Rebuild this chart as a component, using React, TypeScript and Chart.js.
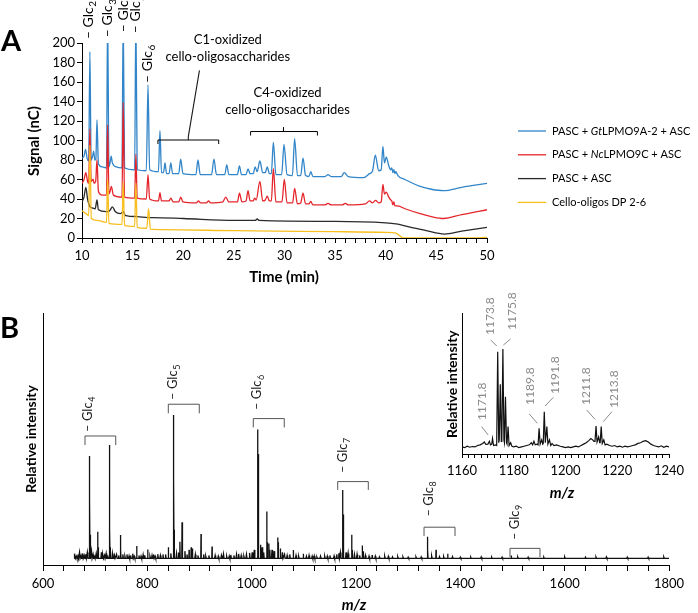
import React, { useEffect, useRef } from "react";
import { Chart, registerables } from "chart.js";

Chart.register(...registerables);

const FONT = "Lato, 'Open Sans', 'DejaVu Sans', sans-serif";
const BLUE = "#3185c8";
const RED = "#e4262c";
const DARK = "#2a2a2a";
const GOLD = "#f7be1e";
const GREY_LABEL = "#8a8a8a";

// ---------------- Panel A: chromatograms (time min, signal nC) ----------------
const timeTickLabels = [10, 15, 20, 25, 30, 35, 40, 45, 50];

const gtTrace: [number, number][] = [
  [10.0, 82], [10.2, 84], [10.35, 91], [10.5, 82], [10.66, 79], [10.78, 191], [10.9, 80], [11.05, 84], [11.15, 89],
  [11.27, 80], [11.37, 81], [11.48, 121], [11.62, 76], [12.0, 73], [12.42, 72], [12.53, 230], [12.66, 73], [12.8, 79],
  [12.88, 84], [13.0, 77], [13.4, 73], [13.95, 72], [14.07, 230], [14.2, 72], [15.2, 70], [15.32, 230], [15.45, 70],
  [16.35, 69], [16.52, 157], [16.68, 70], [17.55, 68], [17.7, 110], [17.85, 67], [18.05, 67], [18.2, 77], [18.35, 66],
  [18.6, 66], [18.77, 77], [18.95, 66], [19.55, 66], [19.75, 81], [19.97, 66], [21.25, 65], [21.45, 80], [21.68, 65],
  [22.8, 65], [23.03, 81], [23.28, 65], [24.1, 65], [24.3, 75], [24.5, 65], [25.35, 65], [25.55, 74], [25.75, 65],
  [26.2, 65], [26.4, 71], [26.6, 66], [26.92, 66], [27.1, 73], [27.3, 68], [27.57, 79], [27.85, 67], [28.1, 67],
  [28.3, 73], [28.5, 66], [28.7, 66], [28.9, 98], [29.15, 65], [29.72, 65], [29.95, 96], [30.25, 65], [30.78, 64],
  [31.0, 102], [31.28, 64], [31.6, 64], [31.83, 82], [32.08, 64], [32.4, 63], [32.6, 68], [32.8, 63], [34.0, 63],
  [34.3, 65], [34.6, 63], [35.6, 63], [35.9, 67], [36.3, 63], [37.8, 62], [38.4, 66], [38.7, 69], [38.97, 85],
  [39.3, 69], [39.55, 70], [39.72, 94], [39.87, 77], [40.05, 83], [40.3, 74], [40.5, 70], [40.6, 72], [40.7, 67],
  [40.8, 70], [40.9, 66], [41.0, 68], [41.2, 64], [41.9, 60], [43.4, 53], [44.5, 50], [45.7, 48.5], [47.5, 52], [50, 56],
];

const ncTrace: [number, number][] = [
  [10.0, 56], [10.2, 60], [10.38, 67], [10.55, 58], [10.66, 56], [10.78, 112], [10.9, 58], [11.1, 60], [11.2, 56],
  [11.35, 58], [11.48, 80], [11.62, 48], [12.0, 44], [12.42, 44], [12.53, 116], [12.66, 45], [12.78, 48], [12.9, 53],
  [13.1, 44], [13.95, 42], [14.07, 139], [14.2, 42], [15.2, 41], [15.32, 86], [15.45, 41], [16.35, 40], [16.52, 65],
  [16.68, 40], [17.55, 38], [17.7, 46.5], [17.85, 38], [18.6, 38], [18.77, 41], [19.0, 37], [19.55, 37], [19.75, 42],
  [19.97, 37], [21.3, 36], [21.5, 38], [21.7, 36], [22.3, 36], [22.5, 38], [22.7, 36], [23.9, 37], [24.2, 42],
  [24.5, 37], [25.35, 37], [25.55, 46], [25.8, 37], [26.2, 38], [26.4, 48.5], [26.6, 38], [26.9, 38], [27.05, 41],
  [27.2, 39], [27.57, 58], [27.85, 38], [28.1, 39], [28.3, 43], [28.5, 38], [28.7, 38], [28.9, 71], [29.15, 37],
  [29.75, 37], [29.98, 60], [30.25, 36], [30.8, 36], [31.0, 51], [31.28, 35], [31.6, 36], [31.83, 46], [32.08, 35],
  [32.4, 35], [32.6, 37.5], [32.8, 34], [34.0, 34], [34.3, 35.5], [34.6, 34], [35.7, 34], [36.0, 35.5], [36.3, 34],
  [38.0, 35], [38.4, 38], [38.7, 36], [39.0, 38.5], [39.3, 36], [39.55, 37], [39.72, 55], [39.87, 45], [40.05, 47],
  [40.3, 42], [40.5, 39], [40.6, 38], [40.7, 34], [40.8, 37], [40.9, 33], [41.2, 33], [41.9, 30], [43.4, 25],
  [44.5, 22], [45.7, 20], [47.5, 24], [50, 29],
];

const controlTrace: [number, number][] = [
  [10.0, 37], [10.2, 42], [10.38, 52], [10.55, 40], [10.8, 32], [11.0, 31], [11.3, 30], [11.48, 39], [11.62, 29],
  [12.4, 27], [12.6, 27], [12.8, 29], [13.0, 32], [13.3, 27], [13.8, 25], [14.07, 27], [14.3, 23], [15.5, 22],
  [16.5, 21], [17.0, 21], [20, 20], [25, 18], [27.1, 18], [27.3, 19.5], [27.5, 18], [35, 17], [40, 15.5], [41, 14.5],
  [42.5, 11], [44, 7.5], [45.8, 4], [47.5, 7], [50, 11],
];

const standardTrace: [number, number][] = [
  [10.0, 28], [10.4, 25], [10.66, 23], [10.78, 95], [10.92, 20], [11.5, 18], [12.42, 16], [12.53, 60], [12.66, 15],
  [13.95, 14], [14.07, 57], [14.2, 13], [15.2, 12], [15.32, 56], [15.45, 11], [16.4, 10], [16.57, 30], [16.75, 9],
  [18, 8.5], [25, 7.5], [35, 6.5], [40, 5.8], [41, 5], [41.75, 0], [48.5, 0], [50, 0.5],
];

const seriesNames = ["PASC + GtLPMO9A-2 + ASC", "PASC + NcLPMO9C + ASC", "PASC + ASC", "Cello-oligos DP 2-6"];
const seriesItalic = ["Gt", "Nc", "", ""];
const seriesColors = [BLUE, RED, DARK, GOLD];

// Glc peak labels (retention time, label foot in nC)
const glcLabelsA = [
  { n: 2, t: 10.62, s: 204 },
  { n: 3, t: 12.56, s: 206 },
  { n: 4, t: 14.07, s: 211 },
  { n: 5, t: 15.32, s: 210 },
  { n: 6, t: 16.47, s: 159 },
];

// ---------------- Panel B: MALDI spectrum (m/z, relative intensity) ----------------
const mzTickLabels = [600, 800, 1000, 1200, 1400, 1600, 1800];
const spectrumBase = 2.6;
const majorPeaks: [number, number][] = [
  [688.7, 43.3], [689.7, 26], [690.7, 12], [704.8, 13.2], [706, 7], [727.1, 47.6], [728.1, 14.7], [729.1, 7],
  [748.2, 11.9], [749.2, 6], [779.6, 7.5], [800.7, 6.2], [840.3, 7], [849.8, 59.5], [850.8, 34], [851.8, 14],
  [862.6, 9.2], [866.5, 17], [867.5, 8], [880, 6], [884, 7], [886.5, 6.5], [902.9, 12.3], [924, 7.3],
  [1011.3, 53.8], [1012.3, 44], [1013.3, 20], [1017, 8], [1028.8, 21.2], [1029.8, 9], [1033, 8.5], [1035, 6],
  [1049.8, 10.9], [1050.8, 9], [1055, 6.5], [1079.8, 6], [1099, 4.5], [1174.2, 29.8], [1175.2, 20], [1176.2, 12],
  [1191.6, 12], [1192.6, 6], [1212, 7.7], [1214, 5.5], [1231, 4], [1336.7, 11.2], [1337.7, 6], [1353.4, 6],
  [1375.8, 4.5], [1497.7, 3.8],
];
const baselineRipple: [number, number][] = [
  [661, 4.5], [664, 3.5], [667, 4.2], [670, 5], [673, 3.8], [676, 4.6], [679, 3.8], [682, 4.3], [685, 5], [693, 5.5],
  [696, 4.2], [699, 3.8], [702, 4.6], [712, 5], [715, 4.2], [718, 3.8], [721, 4.6], [724, 3.8], [733, 4.6], [737, 3.8],
  [741, 4.2], [745, 3.8], [753, 4.2], [757, 3.5], [761, 4.2], [765, 3.6], [768, 3.8], [772, 4.5], [775, 3.5],
  [784, 3.8], [788, 3.5], [792, 4], [795, 3.8], [805, 3.5], [809, 3.8], [812, 4.2], [815, 3.5], [820, 4.3],
  [825, 3.8], [830, 4.2], [835, 4.2], [845, 4.6], [856, 4.6], [860, 5], [872, 5.5], [876, 4.2], [892, 4.2],
  [897, 3.8], [908, 4.2], [912, 3.5], [918, 3.8], [930, 3.8], [936, 3.5], [942, 3.8], [946, 4.3], [952, 3.5],
  [957, 3.5], [960, 4], [966, 3.8], [971, 4.2], [975, 4.4], [980, 3.8], [985, 3.5], [990, 4.2], [996, 4.8],
  [1001, 5], [1005, 6], [1020, 7], [1023, 5], [1039, 6], [1043, 5.5], [1059, 5], [1063, 4.2], [1068, 3.8],
  [1073, 4.2], [1085, 3.8], [1090, 3.5], [1105, 3.5], [1110, 3.8], [1116, 3.5], [1120, 3.6], [1125, 3.2],
  [1132, 3.5], [1140, 3.5], [1145, 3.5], [1150, 3.8], [1158, 3.6], [1163, 4.2], [1167, 4.6], [1170, 5], [1181, 5],
  [1185, 4.6], [1197, 4.2], [1202, 4.2], [1207, 3.8], [1218, 3.8], [1225, 3.5], [1237, 3.5], [1245, 3.2],
  [1255, 3.5], [1262, 3.4], [1270, 3.2], [1280, 3.3], [1290, 3.2], [1300, 3.1], [1315, 3.2], [1325, 3.2],
  [1345, 3.6], [1360, 3.3], [1368, 3.3], [1385, 3.3], [1400, 3.1], [1420, 3.1], [1440, 3.2], [1460, 3.1],
  [1480, 3.1], [1510, 3.2], [1530, 3.1], [1560, 3.1], [1600, 3.2], [1640, 3.1], [1660, 3.2], [1680, 3.2],
  [1720, 3.1], [1760, 3.1], [1790, 3.2],
];

// brackets: DP, m/z range, bracket top / end (rel. int.), label x and foot
const glcBracketsB = [
  { n: 4, x1: 680.5, x2: 739.4, top: 51.2, end: 47.6, lx: 686.8, ly: 52.8 },
  { n: 5, x1: 840.2, x2: 899.6, top: 63.8, end: 60.2, lx: 849.8, ly: 65.5 },
  { n: 6, x1: 1003.1, x2: 1062.5, top: 58.1, end: 54.6, lx: 1009.6, ly: 61.5 },
  { n: 7, x1: 1164.9, x2: 1223.6, top: 33.1, end: 29.8, lx: 1174.6, ly: 36.5 },
  { n: 8, x1: 1330.4, x2: 1389.8, top: 15.0, end: 11.5, lx: 1340.5, ly: 19.2 },
  { n: 9, x1: 1495.2, x2: 1552.7, top: 6.6, end: 3.1, lx: 1504.8, ly: 9.9 },
];

// ---------------- Inset: zoom on DP7 region ----------------
const insetTickLabels = [1160, 1180, 1200, 1220, 1240];
const insetTrace: [number, number][] = [
  [1160, 5], [1161, 4.5], [1162, 5.5], [1163, 4.8], [1164, 5.3], [1165, 5], [1166, 6], [1167, 6.5], [1168, 7.5],
  [1168.6, 8.5], [1169.2, 6.8], [1170, 7], [1170.6, 9], [1171, 6.5], [1171.5, 7], [1171.8, 11], [1172.2, 6],
  [1172.9, 6.5], [1173.4, 6], [1173.8, 72.6], [1174.2, 8], [1174.4, 10], [1174.8, 49.4], [1175.2, 9], [1175.4, 10],
  [1175.8, 74.5], [1176.2, 10], [1176.4, 8], [1176.8, 40.6], [1177.2, 8], [1177.4, 7], [1177.8, 19.4], [1178.2, 6],
  [1178.8, 8], [1179.3, 5.5], [1180, 5], [1181, 5.5], [1182, 4.5], [1183, 5], [1184, 5.5], [1185, 6], [1186, 6.5],
  [1186.8, 8], [1187.3, 6.5], [1187.8, 9], [1188.3, 6.5], [1189, 7], [1189.4, 6.5], [1189.8, 18.2], [1190.2, 7],
  [1190.8, 10], [1191.2, 7], [1191.4, 7.5], [1191.8, 30], [1192.2, 8], [1192.4, 8], [1192.8, 19.4], [1193.2, 7],
  [1193.8, 10], [1194.3, 6], [1194.8, 7.5], [1195.5, 6], [1196.5, 6.5], [1198, 5.5], [1199, 5], [1200, 4.5],
  [1201, 5], [1202, 4.5], [1203, 5], [1204, 5.5], [1205, 5], [1206, 6], [1207, 7], [1208, 8], [1209, 9.5],
  [1209.8, 11], [1210.5, 10], [1211, 9], [1211.4, 9], [1211.8, 19.8], [1212.2, 8.5], [1212.8, 12], [1213.2, 8],
  [1213.4, 8], [1213.8, 19.4], [1214.2, 7.5], [1214.8, 10], [1215.3, 6.5], [1216, 7], [1217, 6], [1218, 5.5],
  [1219, 6], [1220, 5], [1221, 5.5], [1222, 4.8], [1223, 5.5], [1224, 5], [1225, 5.5], [1226, 6], [1227, 6.5],
  [1228, 7.5], [1229, 8], [1230, 9], [1231, 9.5], [1232, 8.5], [1233, 7], [1234, 6], [1235, 5.5], [1236, 5],
  [1237, 5.8], [1238, 4.8], [1239, 5.5], [1240, 5],
];
const insetPeakLabels = [
  { t: "1171.8", x: 1167.6, y: 24, l: [1167.6, 19.4, 1170.1, 13.5] },
  { t: "1173.8", x: 1170.8, y: 84.4, l: [1171.1, 80.9, 1173.4, 76.6] },
  { t: "1175.8", x: 1179.2, y: 88, l: [1178.8, 81.6, 1176.0, 77.3] },
  { t: "1189.8", x: 1186.3, y: 34.8, l: [1186.0, 28.4, 1189.1, 21.8] },
  { t: "1191.8", x: 1195.9, y: 42.6, l: [1195.3, 40.2, 1192.1, 34] },
  { t: "1211.8", x: 1207.8, y: 34.8, l: [1208.2, 31.2, 1211.4, 24.6] },
  { t: "1213.8", x: 1218.7, y: 32.6, l: [1217.9, 30, 1214.6, 22.9] },
];

// ---------------- helpers ----------------
const xy = (arr: [number, number][]) => arr.map(([x, y]) => ({ x, y }));

function stickLine(groups: { peaks: [number, number][]; hw: number }[], base: number, start: number, end: number) {
  const all: [number, number, number][] = [];
  groups.forEach((g) => g.peaks.forEach(([m, h]) => all.push([m, h, g.hw])));
  all.sort((a, b) => a[0] - b[0]);
  const pts = [{ x: start, y: base }];
  for (const [m, h, hw] of all) {
    pts.push({ x: m - hw, y: base }, { x: m, y: h }, { x: m + hw, y: base });
  }
  pts.push({ x: end, y: base });
  return pts;
}

function rotText(ctx: CanvasRenderingContext2D, text: string, x: number, y: number, align: CanvasTextAlign, font: string, color: string) {
  ctx.save();
  ctx.translate(x, y);
  ctx.rotate(-Math.PI / 2);
  ctx.font = font;
  ctx.fillStyle = color;
  ctx.textAlign = align;
  ctx.textBaseline = "middle";
  ctx.fillText(text, 0, 0);
  ctx.restore();
}

function glcLabel(ctx: CanvasRenderingContext2D, x: number, y: number, n: number, size: number, color: string) {
  ctx.save();
  ctx.translate(x, y);
  ctx.rotate(-Math.PI / 2);
  ctx.fillStyle = color;
  ctx.textAlign = "left";
  ctx.textBaseline = "middle";
  ctx.font = `${size}px ${FONT}`;
  const main = "– Glc";
  ctx.fillText(main, 0, 0);
  const w = ctx.measureText(main).width;
  ctx.font = `${Math.round(size * 0.72)}px ${FONT}`;
  ctx.fillText(String(n), w + 0.5, size * 0.32);
  ctx.restore();
}

function line(ctx: CanvasRenderingContext2D, pts: number[][], color: string, w = 1) {
  ctx.save();
  ctx.strokeStyle = color;
  ctx.lineWidth = w;
  ctx.setLineDash([]);
  ctx.beginPath();
  ctx.moveTo(pts[0][0], pts[0][1]);
  for (let i = 1; i < pts.length; i++) ctx.lineTo(pts[i][0], pts[i][1]);
  ctx.stroke();
  ctx.restore();
}

const tickFont = { family: FONT, size: 13 };

// ---------------- plugins ----------------
const annotateA = {
  id: "annotateA",
  afterDraw(chart: any) {
    const { ctx } = chart;
    const x = chart.scales.x;
    const y = chart.scales.y;
    const X = (v: number) => x.getPixelForValue(v);
    const Y = (v: number) => y.getPixelForValue(v);
    ctx.save();
    ctx.fillStyle = "#000";
    ctx.font = `bold 29px ${FONT}`;
    ctx.textAlign = "left";
    ctx.textBaseline = "alphabetic";
    ctx.fillText("A", 1, 51);
    rotText(ctx, "Signal (nC)", 34, 141, "center", `bold 15px ${FONT}`, "#000");
    ctx.font = `bold 15px ${FONT}`;
    ctx.textAlign = "center";
    ctx.textBaseline = "middle";
    ctx.fillText("Time (min)", 284, 277);

    glcLabelsA.forEach((g) => glcLabel(ctx, X(g.t), Y(g.s), g.n, 14, "#000"));

    // C1 annotation: bracket, pointer and text
    line(ctx, [[X(17.5), Y(96.4)], [X(17.5), Y(100.5)], [X(23.5), Y(100.5)], [X(23.5), Y(96.4)]], "#000");
    line(ctx, [[X(20.5), Y(100.5)], [X(20.5), Y(104)], [X(21.6), Y(172)]], "#1a1a1a", 1.1);
    ctx.font = `13px ${FONT}`;
    ctx.fillStyle = "#000";
    ctx.textAlign = "center";
    ctx.textBaseline = "middle";
    ctx.fillText("C1-oxidized", X(24.4), Y(203));
    ctx.fillText("cello-oligosaccharides", X(24.4), Y(185.6));
    // C4 annotation
    line(ctx, [[X(26.65), Y(105.1)], [X(26.65), Y(109.2)], [X(33.25), Y(109.2)], [X(33.25), Y(105.1)]], "#000");
    line(ctx, [[X(29.9), Y(109.2)], [X(29.9), Y(113.8)]], "#000");
    ctx.fillText("C4-oxidized", X(30.3), Y(148.7));
    ctx.fillText("cello-oligosaccharides", X(30.3), Y(131.3));

    // legend
    const lx = 518, tx = 552;
    seriesNames.forEach((name, i) => {
      const ly = 131 + i * 23.8;
      line(ctx, [[lx, ly], [lx + 28, ly]], seriesColors[i], 1.3);
      ctx.textAlign = "left";
      ctx.textBaseline = "middle";
      ctx.fillStyle = "#000";
      const it = seriesItalic[i];
      let parts: [string, boolean][] = [[name, false]];
      if (it) {
        const k = name.indexOf(it);
        parts = [[name.slice(0, k), false], [it, true], [name.slice(k + it.length), false]];
      }
      let cx = tx;
      parts.forEach(([s, ital]) => {
        ctx.font = `${ital ? "italic " : ""}11px ${FONT}`;
        ctx.fillText(s, cx, ly);
        cx += ctx.measureText(s).width;
      });
    });
    ctx.restore();
  },
};

const annotateB = {
  id: "annotateB",
  afterDraw(chart: any) {
    const { ctx } = chart;
    const X = (v: number) => chart.scales.x.getPixelForValue(v);
    const Y = (v: number) => chart.scales.y.getPixelForValue(v);
    ctx.save();
    ctx.fillStyle = "#000";
    ctx.font = `bold 29px ${FONT}`;
    ctx.textAlign = "left";
    ctx.textBaseline = "alphabetic";
    ctx.fillText("B", 0, 38);
    rotText(ctx, "Relative intensity", 31.5, 139, "center", `bold 14px ${FONT}`, "#000");
    ctx.font = `italic bold 15px ${FONT}`;
    ctx.textAlign = "center";
    ctx.textBaseline = "middle";
    ctx.fillStyle = "#000";
    ctx.fillText("m/z", 354, 305);
    glcBracketsB.forEach((b) => {
      line(ctx, [[X(b.x1), Y(b.end)], [X(b.x1), Y(b.top)], [X(b.x2), Y(b.top)], [X(b.x2), Y(b.end)]], "#555");
      glcLabel(ctx, X(b.lx), Y(b.ly), b.n, 13, "#222");
    });
    ctx.restore();
  },
};

const annotateInset = {
  id: "annotateInset",
  afterDraw(chart: any) {
    const { ctx } = chart;
    const X = (v: number) => chart.scales.x.getPixelForValue(v);
    const Y = (v: number) => chart.scales.y.getPixelForValue(v);
    ctx.save();
    rotText(ctx, "Relative intensity", 22, 148, "left", `bold 14px ${FONT}`, "#000");
    ctx.font = `italic bold 15px ${FONT}`;
    ctx.textAlign = "center";
    ctx.textBaseline = "middle";
    ctx.fillStyle = "#000";
    ctx.fillText("m/z", 132, 203);
    insetPeakLabels.forEach((p) => {
      rotText(ctx, p.t, X(p.x), Y(p.y), "left", `12px ${FONT}`, GREY_LABEL);
      line(ctx, [[X(p.l[0]), Y(p.l[1])], [X(p.l[2]), Y(p.l[3])]], GREY_LABEL);
    });
    ctx.restore();
  },
};

// ---------------- configs ----------------
function axisX(min: number, max: number, step: number, labels: number[], height: number, tickLen: number, pad: number) {
  return {
    type: "linear",
    min,
    max,
    ticks: {
      stepSize: step,
      autoSkip: false,
      maxRotation: 0,
      padding: pad,
      color: "#000",
      font: tickFont,
      callback: (v: number) => (labels.some((l) => Math.abs(l - v) < 1e-6) ? String(Math.round(v)) : ""),
    },
    grid: { display: true, drawOnChartArea: false, drawTicks: true, tickLength: tickLen, color: "#000", lineWidth: 1 },
    border: { display: true, color: "#000", width: 1 },
    afterFit: (s: any) => {
      s.height = height;
    },
  };
}

function cfgA(): any {
  const ds = (label: string, data: [number, number][], color: string) => ({
    label,
    data: xy(data),
    borderColor: color,
    borderWidth: 1.3,
    pointRadius: 0,
    fill: false,
    cubicInterpolationMode: "monotone",
  });
  return {
    type: "line",
    data: {
      datasets: [
        ds(seriesNames[3], standardTrace, GOLD),
        ds(seriesNames[2], controlTrace, DARK),
        ds(seriesNames[1], ncTrace, RED),
        ds(seriesNames[0], gtTrace, BLUE),
      ],
    },
    options: {
      animation: false,
      responsive: false,
      devicePixelRatio: 1,
      layout: { padding: { top: 43, right: 211, left: 0, bottom: 0 } },
      plugins: { legend: { display: false }, tooltip: { enabled: false } },
      scales: {
        x: axisX(10, 50, 1, timeTickLabels, 62, 5, 5),
        y: {
          type: "linear",
          min: 0,
          max: 200,
          ticks: { stepSize: 20, padding: 2, color: "#000", font: tickFont },
          grid: { display: true, drawOnChartArea: false, drawTicks: true, tickLength: 5, color: "#000" },
          border: { display: true, color: "#000", width: 1 },
          afterFit: (s: any) => {
            s.width = 82;
          },
        },
      },
    },
    plugins: [annotateA],
  };
}

function cfgB(): any {
  return {
    type: "line",
    data: {
      datasets: [
        {
          label: "MALDI-TOF",
          data: stickLine(
            [
              { peaks: majorPeaks, hw: 0.45 },
              { peaks: baselineRipple, hw: 1.1 },
            ],
            spectrumBase,
            660,
            1800
          ),
          borderColor: "#111",
          borderWidth: 1.3,
          pointRadius: 0,
          tension: 0,
        },
      ],
    },
    options: {
      animation: false,
      responsive: false,
      devicePixelRatio: 1,
      layout: { padding: { top: 13, right: 29, left: 0, bottom: 0 } },
      plugins: { legend: { display: false }, tooltip: { enabled: false } },
      scales: {
        x: axisX(600, 1800, 40, mzTickLabels, 48, 6, 5),
        y: {
          type: "linear",
          min: 0,
          max: 100,
          ticks: { display: false },
          grid: { display: false },
          border: { display: true, color: "#000", width: 1 },
          afterFit: (s: any) => {
            s.width = 43;
          },
        },
      },
    },
    plugins: [annotateB],
  };
}

function cfgInset(): any {
  return {
    type: "line",
    data: {
      datasets: [
        {
          label: "DP7 region",
          data: xy(insetTrace),
          borderColor: "#111",
          borderWidth: 1.2,
          pointRadius: 0,
          tension: 0,
        },
      ],
    },
    options: {
      animation: false,
      responsive: false,
      devicePixelRatio: 1,
      layout: { padding: { top: 23, right: 29, left: 0, bottom: 0 } },
      plugins: { legend: { display: false }, tooltip: { enabled: false } },
      scales: {
        x: axisX(1160, 1240, 2.5, insetTickLabels, 51, 4, 5),
        y: {
          type: "linear",
          min: 0,
          max: 100,
          ticks: { display: false },
          grid: { display: false },
          border: { display: true, color: "#000", width: 1 },
          afterFit: (s: any) => {
            s.width = 32;
          },
        },
      },
    },
    plugins: [annotateInset],
  };
}

export default function App() {
  const refA = useRef<HTMLCanvasElement>(null);
  const refB = useRef<HTMLCanvasElement>(null);
  const refC = useRef<HTMLCanvasElement>(null);
  useEffect(() => {
    const charts = [
      new Chart(refA.current as HTMLCanvasElement, cfgA()),
      new Chart(refB.current as HTMLCanvasElement, cfgB()),
      new Chart(refC.current as HTMLCanvasElement, cfgInset()),
    ];
    return () => charts.forEach((c) => c.destroy());
  }, []);
  return (
    <div style={{ position: "absolute", left: 0, top: 0, width: 698, height: 613, background: "#fff", overflow: "hidden" }}>
      <canvas ref={refA} width={698} height={300} style={{ position: "absolute", left: 0, top: 0, width: 698, height: 300 }} />
      <canvas ref={refB} width={698} height={313} style={{ position: "absolute", left: 0, top: 300, width: 698, height: 313 }} />
      <canvas ref={refC} width={268} height={215} style={{ position: "absolute", left: 430, top: 290, width: 268, height: 215 }} />
    </div>
  );
}
